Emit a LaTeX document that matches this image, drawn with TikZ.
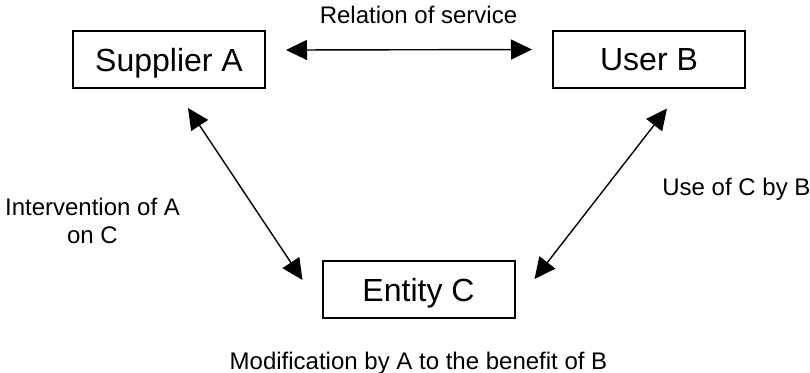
\documentclass[tikz,border=0pt]{standalone}
\usepackage{fontspec}
\setmainfont{Liberation Sans}
\usetikzlibrary{arrows.meta,calc}

\begin{document}
\begin{tikzpicture}[
    x=0.5pt, y=-0.5pt,
    party/.style={draw, line width=1pt, minimum width=96pt, minimum height=28.5pt, inner sep=0pt, text height=11.5pt, text depth=0pt, font=\fontsize{16}{19}\selectfont},
    lbl/.style={inner sep=0pt, font=\fontsize{12}{14}\selectfont},
    arr/.style={{Triangle[length=10.5pt,width=10pt]}-{Triangle[length=10.5pt,width=10pt]}, line width=0.7pt}
]
\useasboundingbox (0,0) rectangle (810,372);
\node[party] (sup) at (169,59.5) {Supplier A};
\node[party] (usr) at (649,59) {User B};
\node[party] (ent) at (418.5,289.5) {Entity C};

\node[lbl, anchor=base] (rel) at (418.5,23) {Relation of service};
\node[lbl, anchor=base west] (use) at (662,195) {Use of C by B};
\node[lbl, align=center, anchor=base] (int) at (92.5,243) {Intervention of A\\on C};
\node[lbl, anchor=base] (mod) at (418.5,369) {Modification by A to the benefit of B};

\draw[arr] ([shift={(20,-9.5)}]sup.east) -- ([shift={(-20,-9.5)}]usr.west);
\draw[arr] ([shift={(19,19)}]sup.south) -- ([shift={(-19,-9.5)}]ent.west);
\draw[arr] ([shift={(18,20)}]usr.south) -- ([shift={(19,-10.5)}]ent.east);
\end{tikzpicture}
\end{document}
